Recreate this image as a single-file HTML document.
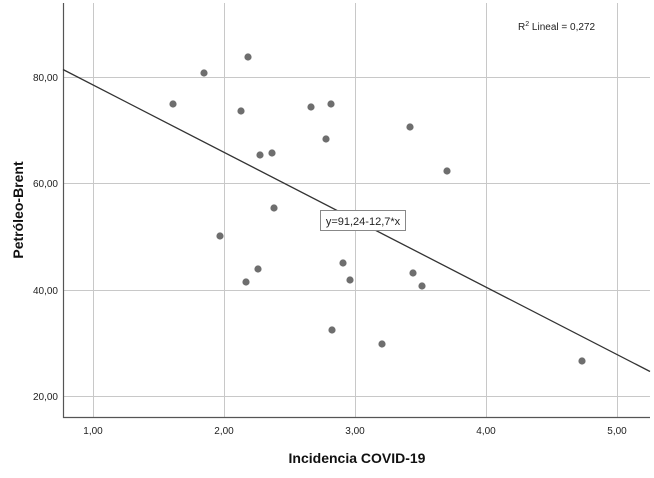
<!DOCTYPE html><html><head><style>body{margin:0;background:#fff}</style></head><body>
<svg width="654" height="473" xmlns="http://www.w3.org/2000/svg" font-family="Liberation Sans, sans-serif">
<rect width="654" height="473" fill="#fff"/>
<g stroke="#c8c8c8" stroke-width="1">
<line x1="93.5" y1="3" x2="93.5" y2="417"/><line x1="224.5" y1="3" x2="224.5" y2="417"/><line x1="355.5" y1="3" x2="355.5" y2="417"/><line x1="486.5" y1="3" x2="486.5" y2="417"/><line x1="617.5" y1="3" x2="617.5" y2="417"/>
<line x1="63" y1="77.5" x2="650" y2="77.5"/><line x1="63" y1="183.5" x2="650" y2="183.5"/><line x1="63" y1="290.5" x2="650" y2="290.5"/><line x1="63" y1="396.5" x2="650" y2="396.5"/>
</g>
<path d="M63.5 3V417.5H650" fill="none" stroke="#555" stroke-width="1.2"/>
<line x1="63" y1="69.5" x2="650" y2="371.5" stroke="#333" stroke-width="1.3"/>
<g fill="#6e6e6e">
<circle cx="204" cy="73" r="3.6"/><circle cx="248" cy="57" r="3.6"/><circle cx="173" cy="104" r="3.6"/><circle cx="241" cy="111" r="3.6"/><circle cx="260" cy="155" r="3.6"/><circle cx="272" cy="153" r="3.6"/><circle cx="311" cy="107" r="3.6"/><circle cx="331" cy="104" r="3.6"/><circle cx="326" cy="139" r="3.6"/><circle cx="410" cy="127" r="3.6"/><circle cx="447" cy="171" r="3.6"/><circle cx="274" cy="208" r="3.6"/><circle cx="220" cy="236" r="3.6"/><circle cx="258" cy="269" r="3.6"/><circle cx="246" cy="282" r="3.6"/><circle cx="343" cy="263" r="3.6"/><circle cx="350" cy="280" r="3.6"/><circle cx="413" cy="273" r="3.6"/><circle cx="422" cy="286" r="3.6"/><circle cx="332" cy="330" r="3.6"/><circle cx="382" cy="344" r="3.6"/><circle cx="582" cy="361" r="3.6"/>
</g>
<rect x="320.5" y="210.5" width="85" height="20" fill="#fff" stroke="#888"/>
<text x="363" y="225" font-size="11" text-anchor="middle" fill="#222">y=91,24-12,7*x</text>
<text x="518" y="30" font-size="10" fill="#222">R<tspan font-size="7" dy="-4">2</tspan><tspan dy="4"> Lineal = 0,272</tspan></text>
<g font-size="10" fill="#222" text-anchor="end">
<text x="58" y="81">80,00</text><text x="58" y="187">60,00</text><text x="58" y="294">40,00</text><text x="58" y="400">20,00</text>
</g>
<g font-size="10" fill="#222" text-anchor="middle">
<text x="93" y="434">1,00</text><text x="224" y="434">2,00</text><text x="355" y="434">3,00</text><text x="486" y="434">4,00</text><text x="617" y="434">5,00</text>
</g>
<text x="357" y="463" font-size="14" font-weight="bold" text-anchor="middle" fill="#111">Incidencia COVID-19</text>
<text transform="translate(23,210) rotate(-90)" font-size="14" font-weight="bold" text-anchor="middle" fill="#111">Petróleo-Brent</text>
</svg>
</body></html>
